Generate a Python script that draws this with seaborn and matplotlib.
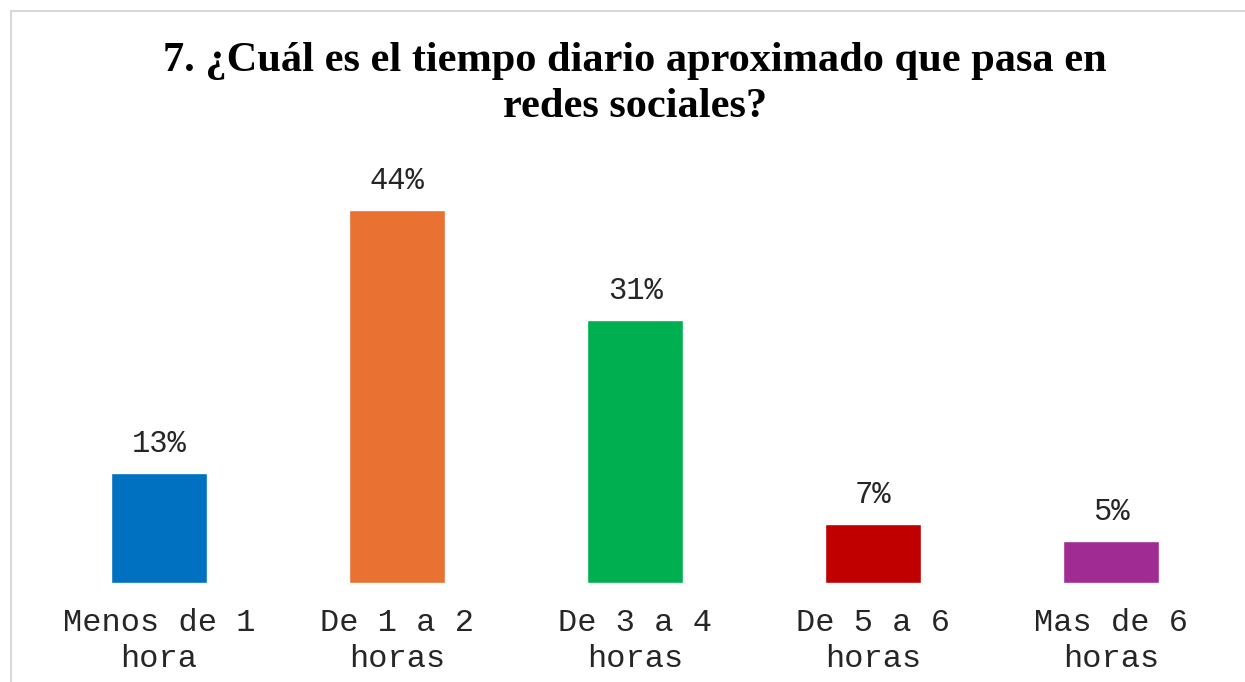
import matplotlib
matplotlib.use("Agg")
import matplotlib.pyplot as plt
from matplotlib.lines import Line2D
import seaborn as sns
import pandas as pd

categories = ["Menos de 1\nhora", "De 1 a 2\nhoras", "De 3 a 4\nhoras", "De 5 a 6\nhoras", "Mas de 6\nhoras"]
percentages = [13, 44, 31, 7, 5]
colors = ["#0070C0", "#E97132", "#00B050", "#C00000", "#A02B93"]
title = "7. ¿Cuál es el tiempo diario aproximado que pasa en\nredes sociales?"

sns.set_theme(style="white")
plt.rcParams["font.family"] = ["Liberation Mono", "DejaVu Sans Mono"]

df = pd.DataFrame({"categoria": categories, "porcentaje": percentages})

fig = plt.figure(figsize=(12.45, 6.82), dpi=100)
ax = fig.add_axes([40 / 1245, 1 - 583 / 682, 1190 / 1245, (583 - 150) / 682])

sns.barplot(data=df, x="categoria", y="porcentaje", hue="categoria",
            palette=colors, width=0.403, legend=False, ax=ax, saturation=1)

px_per_unit = 373 / 44
ax.set_ylim(0, (583 - 150) / px_per_unit)
ax.set_xlim(-0.5, len(categories) - 0.5)

for i, v in enumerate(percentages):
    ax.annotate(f"{v}%", (i, v), xytext=(0, 10), textcoords="offset points",
                ha="center", va="bottom", fontsize=22, color="#262626")

ax.set_xlabel("")
ax.set_ylabel("")
ax.set_yticks([])
ax.tick_params(axis="x", length=0, pad=18, labelsize=23, labelcolor="#262626")
for lbl in ax.get_xticklabels():
    lbl.set_linespacing(1.25)
for s in ax.spines.values():
    s.set_visible(False)

fig.text(0.51, 1 - 84 / 682, title, ha="center", va="center",
         fontsize=30.5, fontweight="bold", family="Liberation Serif",
         linespacing=1.26, color="black")

# light frame along the top and left edges
fig.add_artist(Line2D([11 / 1245, 1], [1 - 11 / 682, 1 - 11 / 682],
                      transform=fig.transFigure, color="#D9D9D9", lw=1.5))
fig.add_artist(Line2D([11 / 1245, 11 / 1245], [0, 1 - 11 / 682],
                      transform=fig.transFigure, color="#D9D9D9", lw=1.5))

fig.savefig("out.png", dpi=100)
